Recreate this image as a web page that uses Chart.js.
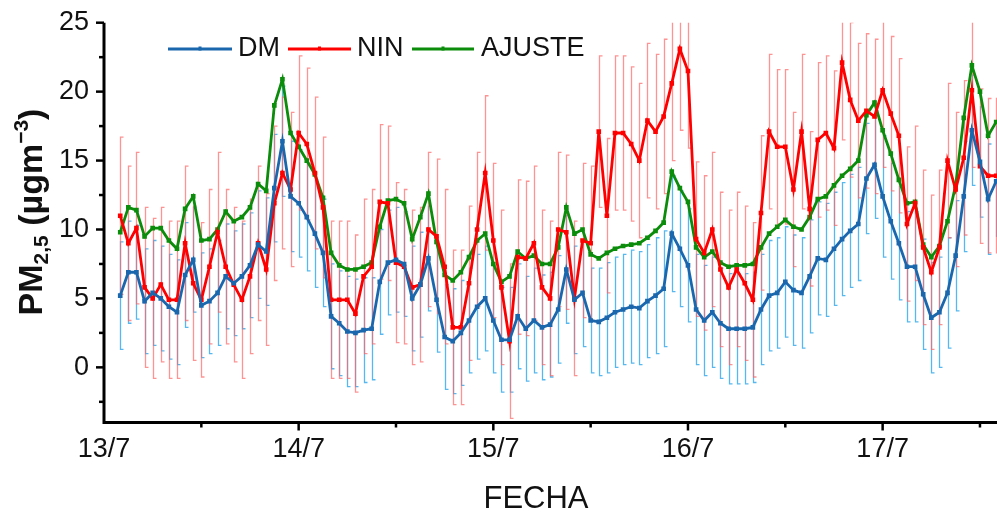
<!DOCTYPE html>
<html lang="es">
<head>
    <meta charset="UTF-8">
    <title>PM2,5 por fecha</title>
    <style>
        body { margin: 0; background: #fff; }
        canvas { display: block; }
    </style>
</head>
<body>
    <canvas id="pm-chart" width="997" height="517"></canvas>

    <script src="https://cdn.jsdelivr.net/npm/chart.js"></script>
    <script>
        // hours counted from 13/7 00:00, one reading per hour
        const firstHour = 2;
        const dayLabels = ['13/7', '14/7', '15/7', '16/7', '17/7'];

        const dm = [
            5.2, 6.9, 6.9, 4.8, 5.4, 5.0, 4.4, 4.0, 6.7, 7.8,
            4.5, 4.8, 5.4, 6.6, 6.1, 6.6, 7.4, 8.9, 8.4, 13.0,
            16.4, 12.4, 11.9, 10.9, 9.7, 8.3, 3.7, 3.2, 2.6, 2.5,
            2.7, 2.8, 6.2, 7.6, 7.8, 7.5, 5.0, 6.0, 7.9, 4.9,
            2.2, 1.9, 2.5, 3.4, 4.4, 5.0, 3.4, 2.0, 2.0, 3.7,
            2.8, 3.4, 2.9, 3.1, 4.2, 7.1, 4.9, 5.4, 3.4, 3.3,
            3.6, 4.0, 4.2, 4.4, 4.3, 4.8, 5.2, 5.7, 9.7, 8.6,
            7.4, 4.2, 3.4, 4.0, 3.2, 2.8, 2.8, 2.8, 2.9, 4.2,
            5.2, 5.4, 6.2, 5.6, 5.4, 6.6, 7.9, 7.8, 8.6, 9.3,
            9.9, 10.4, 13.7, 14.7, 12.4, 10.6, 9.0, 7.3, 7.3, 5.3,
            3.6, 4.0, 5.4, 8.1, 12.4, 17.2, 14.9, 12.2, 13.5
        ];
        const dmErr = [
            3.9, 3.7, 3.4, 3.8, 3.8, 3.8, 3.8, 3.8, 3.8, 3.8,
            3.8, 3.8, 3.8, 3.8, 3.8, 3.8, 3.8, 3.9, 3.9, 3.9,
            4.0, 4.0, 3.9, 3.9, 3.9, 3.9, 3.8, 3.8, 4.0, 3.9,
            3.8, 3.7, 3.8, 3.8, 3.8, 3.8, 3.8, 3.8, 3.8, 3.8,
            3.8, 3.8, 3.8, 3.8, 3.8, 3.8, 3.8, 3.8, 3.8, 3.8,
            3.8, 3.8, 3.8, 3.8, 3.9, 3.9, 3.9, 3.9, 3.8, 3.9,
            4.0, 4.0, 4.0, 4.1, 4.1, 4.1, 4.2, 4.2, 4.2, 4.2,
            4.1, 4.0, 4.0, 4.0, 4.0, 4.0, 4.0, 4.0, 4.0, 4.0,
            4.0, 4.0, 4.0, 4.0, 4.0, 4.1, 4.1, 4.1, 4.1, 4.1,
            4.1, 4.1, 4.0, 3.9, 4.4, 4.2, 4.1, 4.0, 4.0, 4.0,
            4.0, 4.0, 4.0, 4.0, 4.0, 4.0, 4.0, 4.0, 4.0
        ];
        const nin = [
            11.0, 9.0, 10.1, 5.8, 5.0, 6.0, 4.9, 4.9, 9.0, 6.1,
            4.9, 7.3, 9.8, 7.3, 6.0, 4.9, 6.6, 9.0, 7.1, 11.9,
            14.1, 12.9, 17.0, 16.2, 14.1, 11.6, 4.9, 4.9, 4.9, 3.9,
            6.6, 7.3, 12.0, 11.9, 7.6, 7.3, 5.8, 6.0, 10.0, 9.5,
            7.3, 2.9, 2.9, 6.1, 10.0, 14.1, 9.2, 5.8, 1.9, 8.0,
            7.9, 9.0, 5.8, 5.0, 10.0, 9.8, 5.0, 9.2, 9.0, 17.1,
            11.0, 17.0, 17.0, 16.2, 15.0, 17.9, 17.1, 18.2, 20.6, 23.1,
            21.5, 9.3, 8.3, 10.0, 7.1, 5.8, 7.1, 6.1, 4.9, 11.2,
            17.1, 16.0, 16.0, 12.9, 17.1, 11.5, 16.5, 17.0, 15.9, 22.1,
            19.4, 17.9, 18.6, 18.2, 20.1, 18.4, 16.8, 10.4, 11.9, 8.7,
            6.9, 8.7, 15.0, 12.9, 15.2, 20.1, 14.6, 13.9, 13.9
        ];
        const ninErr = [
            5.7, 5.6, 5.5, 5.8, 5.8, 5.6, 5.7, 5.7, 5.6, 5.6,
            5.6, 5.6, 5.8, 5.6, 5.6, 5.7, 5.6, 5.6, 5.5, 5.6,
            5.5, 5.6, 5.6, 5.5, 5.5, 5.1, 5.7, 5.7, 5.7, 5.7,
            5.6, 5.6, 5.6, 5.6, 5.8, 5.6, 5.6, 5.6, 5.6, 5.6,
            5.6, 5.6, 5.6, 5.6, 5.6, 5.6, 5.6, 5.6, 5.6, 5.6,
            5.6, 5.6, 5.6, 5.6, 5.6, 5.6, 5.6, 5.6, 5.6, 5.5,
            5.6, 5.6, 5.6, 5.6, 5.6, 5.6, 5.6, 5.6, 5.6, 5.9,
            5.6, 5.6, 5.6, 5.6, 5.6, 5.6, 5.6, 5.6, 5.6, 5.6,
            5.6, 5.6, 5.6, 5.6, 5.6, 5.6, 5.6, 5.6, 5.6, 5.6,
            5.6, 5.6, 5.6, 5.6, 5.6, 5.6, 5.6, 5.6, 5.6, 5.6,
            5.6, 5.6, 5.6, 5.6, 5.6, 5.6, 5.6, 5.6, 5.6
        ];
        const ajuste = [
            9.8, 11.6, 11.4, 9.5, 10.1, 10.1, 9.2, 8.6, 11.5, 12.4,
            9.2, 9.3, 10.0, 11.3, 10.6, 10.9, 11.6, 13.3, 12.8, 19.0,
            20.9, 17.0, 16.0, 15.0, 14.0, 12.3, 8.3, 7.4, 7.1, 7.1,
            7.3, 7.6, 10.2, 12.1, 12.2, 11.9, 9.3, 10.9, 12.6, 9.1,
            6.7, 6.3, 6.9, 8.0, 9.2, 9.7, 7.5, 6.2, 6.6, 8.4,
            7.9, 8.1, 7.5, 7.5, 8.7, 11.6, 9.7, 10.0, 8.2, 7.9,
            8.3, 8.6, 8.8, 8.9, 9.0, 9.4, 9.9, 10.5, 14.2, 13.0,
            12.0, 8.7, 8.0, 8.4, 7.6, 7.3, 7.4, 7.4, 7.5, 8.7,
            9.7, 10.2, 10.7, 10.2, 10.0, 10.9, 12.2, 12.4, 13.2, 13.9,
            14.4, 15.0, 18.3, 19.2, 17.2, 15.5, 13.6, 11.9, 12.0, 8.9,
            8.0, 8.8, 10.6, 13.2, 18.1, 21.9, 20.0, 16.8, 17.8
        ];

        const hours = dm.map((v, i) => firstHour + i);
        const toPoints = values => values.map((v, i) => ({ x: hours[i], y: v }));

        const FONT = "'Liberation Sans', Arial, sans-serif";
        const TEXT = '#111';

        // error bars for DM and NIN, drawn below the lines
        const errorBars = {
            id: 'errorBars',
            beforeDatasetsDraw(chart) {
                const { ctx, chartArea, scales: { x, y } } = chart;
                const drawBars = (values, errs, color) => {
                    ctx.strokeStyle = color;
                    ctx.lineWidth = 1.3;
                    values.forEach((v, i) => {
                        const px = Math.round(x.getPixelForValue(hours[i])) + 0.5;
                        const top = y.getPixelForValue(v + errs[i]);
                        const bot = y.getPixelForValue(v - errs[i]);
                        ctx.beginPath();
                        ctx.moveTo(px + 3, top);
                        ctx.lineTo(px, top);
                        ctx.lineTo(px, bot);
                        ctx.lineTo(px + 3, bot);
                        ctx.stroke();
                    });
                };
                ctx.save();
                ctx.beginPath();
                ctx.rect(chartArea.left, chartArea.top, chartArea.width, chartArea.height);
                ctx.clip();
                drawBars(dm, dmErr, '#56b8f0');
                drawBars(nin, ninErr, 'rgba(255, 100, 100, 0.7)');
                ctx.restore();
            }
        };

        // axes lines, tick marks, titles and legend
        const decorations = {
            id: 'decorations',
            afterDraw(chart) {
                const { ctx, chartArea, scales: { x, y } } = chart;
                ctx.save();
                ctx.strokeStyle = '#000';

                // axis lines
                ctx.lineWidth = 3;
                ctx.beginPath();
                ctx.moveTo(chartArea.left, chartArea.top);
                ctx.lineTo(chartArea.left, chartArea.bottom);
                ctx.lineTo(chartArea.right, chartArea.bottom);
                ctx.stroke();

                // x ticks: days and half days
                ctx.lineWidth = 2.5;
                x.ticks.forEach(t => {
                    if (t.value % 12 !== 0 || t.value === 0) return;
                    const px = x.getPixelForValue(t.value);
                    const len = t.value % 24 === 0 ? 8 : 5;
                    ctx.beginPath();
                    ctx.moveTo(px, chartArea.bottom);
                    ctx.lineTo(px, chartArea.bottom + len);
                    ctx.stroke();
                });

                // y ticks: major every 5, minor in between
                y.ticks.forEach(t => {
                    const py = y.getPixelForValue(t.value);
                    ctx.beginPath();
                    ctx.moveTo(chartArea.left, py);
                    ctx.lineTo(chartArea.left - 8, py);
                    ctx.stroke();
                    const pm = y.getPixelForValue(t.value - 2.5);
                    if (pm < chartArea.bottom) {
                        ctx.beginPath();
                        ctx.moveTo(chartArea.left, pm);
                        ctx.lineTo(chartArea.left - 5, pm);
                        ctx.stroke();
                    }
                });

                // x title
                ctx.fillStyle = TEXT;
                ctx.font = '31px ' + FONT;
                ctx.textAlign = 'center';
                ctx.textBaseline = 'alphabetic';
                ctx.fillText('FECHA', 536, 508);

                // y title with subscript and superscript
                const parts = [
                    { t: 'PM', size: 34, dy: 0 },
                    { t: '2,5', size: 21, dy: 6 },
                    { t: ' (\u00b5gm', size: 34, dy: 0 },
                    { t: '\u22123', size: 21, dy: -14 },
                    { t: ')', size: 34, dy: 0 }
                ];
                ctx.translate(42, 212);
                ctx.rotate(-Math.PI / 2);
                ctx.textAlign = 'left';
                let total = 0;
                parts.forEach(p => {
                    ctx.font = 'bold ' + p.size + 'px ' + FONT;
                    p.w = ctx.measureText(p.t).width;
                    total += p.w;
                });
                let cx = -total / 2;
                parts.forEach(p => {
                    ctx.font = 'bold ' + p.size + 'px ' + FONT;
                    ctx.fillText(p.t, cx, p.dy);
                    cx += p.w;
                });
                ctx.restore();

                // legend
                ctx.save();
                const legendItems = [
                    { line: [168, 232], text: 238 },
                    { line: [288, 351], text: 357 },
                    { line: [412, 474], text: 481 }
                ];
                ctx.font = '27px ' + FONT;
                ctx.textBaseline = 'middle';
                chart.data.datasets.forEach((ds, i) => {
                    const item = legendItems[i];
                    ctx.strokeStyle = ds.borderColor;
                    ctx.lineWidth = 3;
                    ctx.beginPath();
                    ctx.moveTo(item.line[0], 49);
                    ctx.lineTo(item.line[1], 49);
                    ctx.stroke();
                    ctx.fillStyle = ds.borderColor;
                    ctx.fillRect((item.line[0] + item.line[1]) / 2 - 1.5, 46.5, 3, 4);
                    ctx.fillStyle = TEXT;
                    ctx.fillText(ds.label, item.text, 49);
                });
                ctx.restore();
            }
        };

        const ctx = document.getElementById('pm-chart').getContext('2d');
        new Chart(ctx, {
            type: 'line',
            data: {
                datasets: [
                    {
                        label: 'DM',
                        data: toPoints(dm),
                        borderColor: '#1b67ad',
                        backgroundColor: '#1b67ad',
                        borderWidth: 2.8,
                        pointRadius: 1.3,
                        pointStyle: 'rect',
                        tension: 0
                    },
                    {
                        label: 'NIN',
                        data: toPoints(nin),
                        borderColor: '#ff0000',
                        backgroundColor: '#ff0000',
                        borderWidth: 2.8,
                        pointRadius: 1.3,
                        pointStyle: 'rect',
                        tension: 0
                    },
                    {
                        label: 'AJUSTE',
                        data: toPoints(ajuste),
                        borderColor: '#0b8c0b',
                        backgroundColor: '#0b8c0b',
                        borderWidth: 2.8,
                        pointRadius: 1.3,
                        pointStyle: 'rect',
                        tension: 0
                    }
                ]
            },
            options: {
                responsive: false,
                animation: false,
                layout: { autoPadding: false, padding: { top: 22.7, right: 0, bottom: 0, left: 0 } },
                plugins: {
                    legend: { display: false },
                    tooltip: { enabled: false }
                },
                scales: {
                    x: {
                        type: 'linear',
                        min: 0,
                        max: 110.1,
                        grid: { display: false, drawTicks: false },
                        border: { display: false },
                        afterFit: scale => {
                            scale.height = 94.5;
                            scale.paddingLeft = 0;
                            scale.paddingRight = 0;
                        },
                        ticks: {
                            stepSize: 12,
                            includeBounds: false,
                            autoSkip: false,
                            maxRotation: 0,
                            padding: 11,
                            color: TEXT,
                            font: { family: FONT, size: 27 },
                            callback: v => (v % 24 === 0 ? dayLabels[v / 24] : '')
                        }
                    },
                    y: {
                        min: -4,
                        max: 25,
                        grid: { display: false, drawTicks: false },
                        border: { display: false },
                        afterFit: scale => {
                            scale.width = 104;
                            scale.paddingTop = 0;
                            scale.paddingBottom = 0;
                        },
                        ticks: {
                            stepSize: 5,
                            includeBounds: false,
                            padding: 15,
                            color: TEXT,
                            font: { family: FONT, size: 27 }
                        }
                    }
                }
            },
            plugins: [errorBars, decorations]
        });
    </script>
</body>
</html>
